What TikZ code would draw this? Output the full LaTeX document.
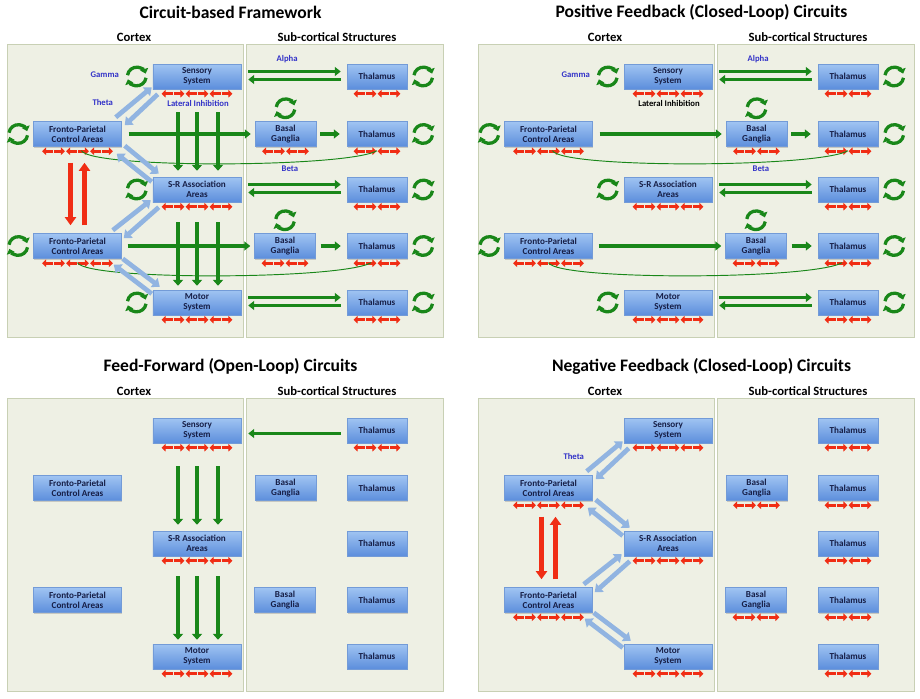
\documentclass[tikz,border=0pt]{standalone}
\usepackage{fontspec}
\setmainfont{Carlito}
\usetikzlibrary{arrows.meta,calc,shadows}
\definecolor{panelfill}{RGB}{238,240,228}
\definecolor{panelline}{RGB}{200,208,180}
\definecolor{boxtop}{RGB}{160,196,242}
\definecolor{boxbot}{RGB}{92,142,220}
\definecolor{boxline}{RGB}{115,155,215}
\definecolor{boxtext}{RGB}{22,30,70}
\definecolor{greenc}{RGB}{25,135,25}
\definecolor{redc}{RGB}{240,45,20}
\definecolor{bluearr}{RGB}{145,180,225}
\definecolor{lblblue}{RGB}{50,50,200}

\newcommand\inhib[2]{\foreach \k in {1,...,#2}{\ifodd\k\relax
  \draw[inl] ($(#1.south)+({(\k-(#2+1)/2)*12-5.5},4.5)$) -- ++(11,0);\else
  \draw[inr] ($(#1.south)+({(\k-(#2+1)/2)*12-5.5},4.5)$) -- ++(11,0);\fi}}
\newcommand\cycl[1]{\draw[cyc] ($#1+(172:0.28cm)$) arc[start angle=172,end angle=18,radius=0.28cm];
  \draw[cyc] ($#1+(-8:0.28cm)$) arc[start angle=-8,end angle=-162,radius=0.28cm];}

\newcommand\panelbase[1]{%
  \draw[panel] (7,44) rectangle (243,337);
  \draw[panel] (246,44) rectangle (443,337);
  \node[ttl] (ttl) at (230.5,12) {#1};
  \node[hdr] (cx) at (134,37) {Cortex};
  \node[hdr] (sc) at (337,37) {Sub-cortical Structures};
  \node[cbox] (sens) at (197,76.5) {Sensory\\System};
  \node[tbox] (th1) at (377,76.5) {Thalamus};
  \node[cbox] (fp1) at (77.5,134) {Fronto-Parietal\\Control Areas};
  \node[bbox] (bg1) at (285.5,134) {Basal\\Ganglia};
  \node[tbox] (th2) at (377,134) {Thalamus};
  \node[cbox] (sr) at (197,189.5) {S-R Association\\Areas};
  \node[tbox] (th3) at (377,189.5) {Thalamus};
  \node[cbox] (fp2) at (77.5,246) {Fronto-Parietal\\Control Areas};
  \node[bbox] (bg2) at (285,246) {Basal\\Ganglia};
  \node[tbox] (th4) at (377,246) {Thalamus};
  \node[cbox] (mot) at (197,302.5) {Motor\\System};
  \node[tbox] (th5) at (377,302.5) {Thalamus};}
\newcommand\inhall{\foreach \n/\c in {sens/6,th1/4,fp1/6,bg1/4,th2/4,sr/6,th3/4,fp2/6,bg2/4,th4/4,mot/6,th5/4}{\inhib{\n}{\c}}}
\newcommand\cycall{%
  \foreach \n in {sens,sr,mot}{\cycl{(\n.west)+(-16,0)}}
  \foreach \n in {fp1,fp2}{\cycl{(\n.west)+(-15,0)}}
  \foreach \n in {th1,th2,th3,th4,th5}{\cycl{(\n.east)+(16,0)}}
  \foreach \n in {bg1,bg2}{\cycl{(\n.north)+(0,-13)}}}
\newcommand\greenloops{%
  \draw[garr] ($(sens.east)+(7,-5)$) -- node[lbl,above=5pt,pos=0.42] (alpha) {Alpha} ($(th1.west)+(-6,-5)$);
  \draw[garr] ($(th1.west)+(-6,3)$) -- ($(sens.east)+(7,3)$);
  \draw[garr] ($(sr.east)+(7,-5)$) -- node[lbl,above=9pt,pos=0.45] (beta) {Beta} ($(th3.west)+(-6,-5)$);
  \draw[garr] ($(th3.west)+(-6,3)$) -- ($(sr.east)+(7,3)$);
  \draw[garr] ($(mot.east)+(7,-5)$) -- ($(th5.west)+(-6,-5)$);
  \draw[garr] ($(th5.west)+(-6,3)$) -- ($(mot.east)+(7,3)$);
  \draw[garr] ($(fp1.east)+(7,0)$) -- ($(bg1.west)+(-4,0)$);
  \draw[garr] ($(bg1.east)+(4,0)$) -- ($(th2.west)+(-7,0)$);
  \draw[garr] ($(fp2.east)+(6,0)$) -- ($(bg2.west)+(-4,0)$);
  \draw[garr] ($(bg2.east)+(5,0)$) -- ($(th4.west)+(-6,0)$);
  \draw[gthin] ($(fp1.south)+(4,4)$) .. controls +(10,18) and +(-30,17) .. ($(th2.south)+(0,4)$);
  \draw[gthin] ($(fp2.south)+(0,4)$) .. controls +(10,18) and +(-30,17) .. ($(th4.south)+(-6,4)$);
  \node[lbl] (gam) at ($(sens.west)+(-48,-2)$) {Gamma};}
\newcommand\greendown{\foreach \dx in {-19,0,21}{%
  \draw[gdown] ($(sens.south)+(\dx,23)$) -- ($(sr.north)+(\dx,-6)$);
  \draw[gdown] ($(sr.south)+(\dx,20)$) -- ($(mot.north)+(\dx,-4)$);}}
\newcommand\bluediag{%
  \draw[barr] ($(fp1.north east)+(-6,-4)$) -- ($(sens.south west)+(-1,-2)$);
  \draw[barr] ($(sens.south west)+(5,5)$) -- ($(fp1.north east)+(3,4)$);
  \draw[barr] ($(fp1.south east)+(3,-1)$) -- ($(sr.north west)+(6,-3)$);
  \draw[barr] ($(sr.north west)+(-1,5)$) -- ($(fp1.south east)+(-5,7)$);
  \draw[barr] ($(fp2.north east)+(-9,-3)$) -- ($(sr.south west)+(-2,-2)$);
  \draw[barr] ($(sr.south west)+(6,5)$) -- ($(fp2.north east)+(2,5)$);
  \draw[barr] ($(fp2.south east)+(1,0)$) -- ($(mot.north west)+(7,-3)$);
  \draw[barr] ($(mot.north west)+(-1,4)$) -- ($(fp2.south east)+(-8,6)$);
  \draw[rbig] ($(fp1.south)+(-7,16)$) -- ($(fp2.north)+(-7,-8)$);
  \draw[rbig] ($(fp2.north)+(7,-8)$) -- ($(fp1.south)+(7,16)$);
  \node[lbl] (theta) at ($(fp1.north east)+(-19,-19)$) {Theta};}

\begin{document}
\begin{tikzpicture}[x=0.03cm,y=-0.03cm,
  bx/.style={draw=boxline,top color=boxtop,bottom color=boxbot,text=boxtext,align=center,inner sep=0pt,minimum height=0.75cm,
    font=\fontsize{7.8}{8.8}\selectfont\bfseries,drop shadow={shadow xshift=0.6pt,shadow yshift=-0.9pt,opacity=0.35}},
  cbox/.style={bx,minimum width=2.64cm},
  bbox/.style={bx,minimum width=1.83cm},
  tbox/.style={bx,minimum width=1.8cm},
  panel/.style={fill=panelfill,draw=panelline,line width=0.8pt},
  ttl/.style={font=\fontsize{15}{18}\selectfont\bfseries},
  hdr/.style={font=\fontsize{10.8}{13}\selectfont\bfseries},
  lbl/.style={font=\fontsize{7.4}{9}\selectfont\bfseries,text=lblblue,inner sep=1pt},
  inh/.style={draw=redc,line width=2.3pt},
  inl/.style={inh,{Triangle[width=6.5pt,length=3.6pt]}-},
  inr/.style={inh,-{Triangle[width=6.5pt,length=3.6pt]}},
  garr/.style={draw=greenc,line width=2.6pt,-{Triangle[width=7.5pt,length=5pt]}},
  gdown/.style={draw=greenc,line width=3.2pt,-{Triangle[width=8.5pt,length=5pt]}},
  gthin/.style={draw=greenc,line width=0.8pt},
  cyc/.style={draw=greenc,line width=2.8pt,-{Triangle[width=7pt,length=4pt]}},
  barr/.style={draw=bluearr,line width=4pt,-{Triangle[width=9.5pt,length=6pt]}},
  rbig/.style={draw=redc,line width=3.6pt,-{Triangle[width=9.5pt,length=7pt]}}]
\fill[white] (0,0) rectangle (920,699);
\useasboundingbox (0,0) rectangle (920,699);

\begin{scope}[name prefix=A-]
  \panelbase{Circuit-based Framework}
  \inhall \cycall \greenloops \greendown \bluediag
  \node[lbl] (lat) at ($(sens.south)+(1,14)$) {Lateral Inhibition};
\end{scope}

\begin{scope}[shift={(471,0)},name prefix=B-]
  \panelbase{Positive Feedback (Closed-Loop) Circuits}
  \inhall \cycall \greenloops
  \node[lbl,text=black] (lat) at ($(sens.south)+(1,14)$) {Lateral Inhibition};
\end{scope}

\begin{scope}[shift={(0,354)},name prefix=C-]
  \panelbase{Feed-Forward (Open-Loop) Circuits}
  \foreach \n/\c in {sens/6,th1/4,sr/6,mot/6}{\inhib{\n}{\c}}
  \draw[garr] ($(th1.west)+(-6,3)$) -- ($(sens.east)+(7,3)$);
  \greendown
\end{scope}

\begin{scope}[shift={(471,354)},name prefix=D-]
  \panelbase{Negative Feedback (Closed-Loop) Circuits}
  \inhall \bluediag
\end{scope}
\end{tikzpicture}
\end{document}
